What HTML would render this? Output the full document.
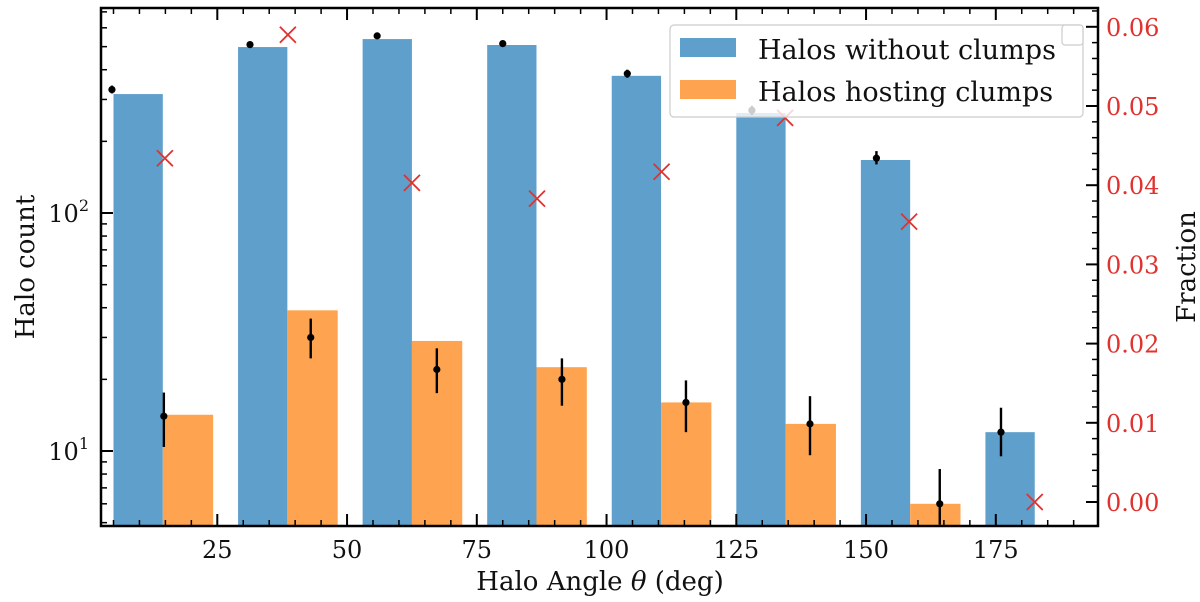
<!DOCTYPE html>
<html><head><meta charset="utf-8"><style>
html,body{margin:0;padding:0;background:#fff;}
svg{display:block;font-family:"DejaVu Serif","Liberation Serif",serif;}
</style></head><body>
<svg id="chart" width="1200" height="602" viewBox="0 0 1200 602"></svg>
<script>
const binLeft = [5, 29, 53, 77, 101, 125, 149, 173];
const barWidth = 9.5;
const countsWithout = [316, 498, 538, 508, 377, 263, 167, 12];
const countsHosting = [14.2, 39, 29, 22.5, 16, 13, 6.0];
const dotXWithout = [4.7, 31.3, 55.8, 80, 104, 128, 152, 176];
const dotYWithout = [330, 510, 555, 515, 385, 270, 170, 12];
const errWithout = [[318,343],[495,525],[540,570],[500,530],[370,400],[258,282],[160,182],[9.5,15.2]];
const dotXHosting = [14.7, 43, 67.3, 91.4, 115.3, 139.2, 164.2];
const dotYHosting = [14, 30, 22, 20, 16, 13, 6];
const errHosting = [[10.4,17.6],[24.5,36],[17.5,27],[15.5,24.5],[12,19.8],[9.6,17],[4.9,8.4]];
const fracX = [14.9, 38.6, 62.5, 86.6, 110.6, 134.4, 158.3, 182.5];
const fracY = [0.0434, 0.059, 0.0403, 0.0383, 0.0417, 0.0485, 0.0354, 0.0];
const xTicks = [25, 50, 75, 100, 125, 150, 175];
const yTicks = [10, 100];
const yTickLabels = ["1", "2"];
const rTicks = [0, 0.01, 0.02, 0.03, 0.04, 0.05, 0.06];
const rTickLabels = ["0.00","0.01","0.02","0.03","0.04","0.05","0.06"];

const L=101,R=1098,T=8,B=526;
const X=v=>217.3+(v-25)*5.19;
const Y=v=>451-238*Math.log10(v/10);
const YR=v=>502-v*7920;
const svg=document.getElementById('chart');
const NS='http://www.w3.org/2000/svg';
function mk(tag,attrs,parent){const e=document.createElementNS(NS,tag);for(const k in attrs)e.setAttribute(k,attrs[k]);(parent||svg).appendChild(e);return e;}

const gBars=mk('g',{});


countsWithout.forEach((v,i)=>{
  const r=mk('rect',{x:X(binLeft[i]),y:Y(v),width:X(binLeft[i]+barWidth)-X(binLeft[i]),height:B-Y(v),fill:'#5f9fcb'},gBars);
  
  
});
countsHosting.forEach((v,i)=>{
  const x0=binLeft[i]+barWidth;
  const r=mk('rect',{x:X(x0),y:Y(v),width:X(x0+barWidth+0.2)-X(x0),height:B-Y(v),fill:'#fea450'},gBars);
  
  
});
function errs(xs,ys,es,name){
  xs.forEach((xv,i)=>{
    const g=mk('g',{});
    
    
    mk('line',{x1:X(xv),x2:X(xv),y1:Y(es[i][0]),y2:Y(es[i][1]),stroke:'#000','stroke-width':2.4},g);
    mk('circle',{cx:X(xv),cy:Y(ys[i]),r:3.6,fill:'#000'},g);
  });
}
errs(dotXWithout,dotYWithout,errWithout,'errorbar-without');
errs(dotXHosting,dotYHosting,errHosting,'errorbar-hosting');
fracX.forEach((xv,i)=>{
  const cx=X(xv),cy=YR(fracY[i]),s=8;
  const g=mk('g',{stroke:'#e0322e','stroke-width':1.8});
  
  
  mk('line',{x1:cx-s,y1:cy-s,x2:cx+s,y2:cy+s},g);
  mk('line',{x1:cx-s,y1:cy+s,x2:cx+s,y2:cy-s},g);
});

// legend
const lg=mk('g',{});


mk('rect',{x:670,y:25,width:413,height:92,rx:4,fill:'rgba(255,255,255,0.8)',stroke:'#ccc','stroke-width':1.2},lg);
mk('rect',{x:680,y:38,width:56,height:19,fill:'#5f9fcb'},lg);
mk('rect',{x:680,y:80,width:56,height:19,fill:'#fea450'},lg);
const t1=mk('text',{x:758,y:59,'font-size':27,fill:'#111'},lg);t1.textContent='Halos without clumps';


const t2=mk('text',{x:758,y:101,'font-size':27,fill:'#111'},lg);t2.textContent='Halos hosting clumps';


const lg2=mk('rect',{x:1062,y:25,width:21,height:20,rx:3,fill:'#fff',stroke:'#ccc','stroke-width':1.2});



// axes frame
const ax=mk('g',{stroke:'#000'});


mk('rect',{x:L,y:T,width:R-L,height:B-T,fill:'none','stroke-width':2.5},ax);
for(let v=5;v<=190;v+=5){
  const major=v%25===0, len=major?12:6, x=X(v);
  mk('line',{x1:x,x2:x,y1:B,y2:B-len,'stroke-width':major?2:1.5},ax);
  mk('line',{x1:x,x2:x,y1:T,y2:T+len,'stroke-width':major?2:1.5},ax);
}
xTicks.forEach(v=>{const t=mk('text',{x:X(v),y:558,'font-size':24,'text-anchor':'middle',fill:'#111',stroke:'none'});t.textContent=v;

});
for(let d=1;d<=100;d*=10){for(let m=1;m<10;m++){const v=d*m;const y=Y(v);if(y<T||y>B)continue;const major=m===1;
  mk('line',{x1:L,x2:L+(major?12:6),y1:y,y2:y,'stroke-width':major?2:1.5},ax);}}
yTicks.forEach((v,i)=>{const t=mk('text',{x:89,y:Y(v)+9,'font-size':24,'text-anchor':'end',fill:'#111',stroke:'none'});
  t.innerHTML='10<tspan dy="-11" font-size="16">'+yTickLabels[i]+'</tspan>';
  
  });
for(let k=0;k<=31;k++){const v=k*0.002;const y=YR(v);if(y<T)continue;const major=k%5===0;
  mk('line',{x1:R,x2:R-(major?12:6),y1:y,y2:y,'stroke-width':major?2:1.5},ax);}
rTicks.forEach((v,i)=>{const t=mk('text',{x:1106,y:YR(v)+9,'font-size':24,fill:'#e0322e',stroke:'none'});t.textContent=rTickLabels[i];
  
  });

const xl=mk('text',{x:600,y:590,'font-size':26,'text-anchor':'middle',fill:'#111'});
xl.innerHTML='Halo Angle <tspan font-style="italic">θ</tspan> (deg)';


const yl=mk('text',{x:0,y:0,'font-size':26,'text-anchor':'middle',fill:'#111',transform:'translate(34,267) rotate(-90)'});
yl.textContent='Halo count';


const rl=mk('text',{x:0,y:0,'font-size':26,'text-anchor':'middle',fill:'#111',transform:'translate(1195,267) rotate(-90)'});
rl.textContent='Fraction';


</script>
</body></html>
